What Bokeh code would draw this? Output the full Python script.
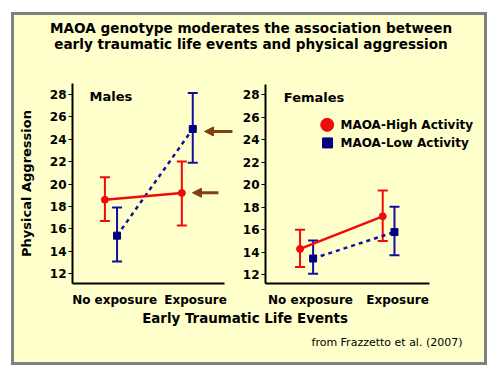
from bokeh.plotting import figure
from bokeh.layouts import column, row
from bokeh.models import (Range1d, FixedTicker, Whisker, TeeHead, ColumnDataSource,
                          Arrow, NormalHead)
from bokeh.core.properties import value
from bokeh.embed import file_html
from bokeh.resources import INLINE

# ---------------- data ----------------
categories = ["No exposure", "Exposure"]
cat_pos = [1, 2]

male_high_mean = [18.6, 19.2]
male_high_upper = [20.6, 22.0]
male_high_lower = [16.7, 16.3]

male_low_mean = [15.4, 24.9]
male_low_upper = [17.9, 28.1]
male_low_lower = [13.1, 21.9]

female_high_mean = [14.3, 17.2]
female_high_upper = [16.0, 19.5]
female_high_lower = [12.7, 15.0]

female_low_mean = [13.45, 15.8]
female_low_upper = [15.05, 18.05]
female_low_lower = [12.1, 13.75]

y_ticks = [12, 14, 16, 18, 20, 22, 24, 26, 28]

series_names = ["MAOA-High Activity", "MAOA-Low Activity"]

title_lines = ["MAOA genotype moderates the association between",
               "early traumatic life events and physical aggression"]
x_title = "Early Traumatic Life Events"
y_title = "Physical Aggression"
source_note = "from Frazzetto et al. (2007)"

# arrows (males panel) : y level, tail x, head x
arrow_y = [24.68, 19.22]
arrow_x_tail = [2.455, 2.282]
arrow_x_head = [2.11, 1.961]

# ---------------- style ----------------
BG = "#FFFFCC"
RED = "#F00A0A"
NAVY = "#000080"
NAVY_BAR = "#1010A0"
BROWN = "#7F4012"
FONT = "DejaVu Sans"
high_offset = [-0.12, -0.17]
low_offset = [0.03, -0.035]


def make_panel(width, left, top, xr, yr, xb, yb, label, label_y, hm, hu, hl, lm, lu, ll):
    p = figure(width=width, height=238, x_range=Range1d(*xr), y_range=Range1d(*yr),
               output_backend="svg", toolbar_location=None,
               min_border_left=left, min_border_right=0, min_border_top=top,
               min_border_bottom=26, background_fill_color=BG, border_fill_color=BG,
               outline_line_color=None)
    p.grid.visible = False
    xa = p.xaxis[0]
    xa.ticker = FixedTicker(ticks=cat_pos)
    xa.major_label_overrides = {c: n for c, n in zip(cat_pos, categories)}
    xa.bounds = xb
    xa.major_tick_out = 0
    xa.major_tick_in = 0
    xa.minor_tick_out = 0
    xa.minor_tick_in = 0
    xa.major_label_standoff = 9
    xa.axis_line_width = 2
    xa.axis_line_color = "black"
    xa.major_label_text_font = FONT
    xa.major_label_text_font_style = "bold"
    xa.major_label_text_font_size = "12px"
    xa.major_label_text_color = "black"

    ya = p.yaxis[0]
    ya.ticker = FixedTicker(ticks=y_ticks)
    ya.bounds = yb
    ya.major_tick_out = 4
    ya.major_tick_in = 0
    ya.minor_tick_out = 0
    ya.minor_tick_in = 0
    ya.major_label_standoff = 2
    ya.axis_line_width = 2
    ya.major_tick_line_width = 1
    ya.major_label_text_font = FONT
    ya.major_label_text_font_style = "bold"
    ya.major_label_text_font_size = "12px"
    ya.major_label_text_color = "black"

    hx = [c + o for c, o in zip(cat_pos, high_offset)]
    lx = [c + o for c, o in zip(cat_pos, low_offset)]
    hs = ColumnDataSource(dict(x=hx, y=hm, u=hu, l=hl))
    ls = ColumnDataSource(dict(x=lx, y=lm, u=lu, l=ll))

    p.line("x", "y", source=ls, line_color=NAVY_BAR, line_width=2.5, line_dash="4 4")
    p.line("x", "y", source=hs, line_color=RED, line_width=2.5)
    for src, col in ((hs, RED), (ls, NAVY_BAR)):
        w = Whisker(base="x", upper="u", lower="l", source=src, dimension="height",
                    line_color=col, line_width=2,
                    upper_head=TeeHead(size=10, line_color=col, line_width=2),
                    lower_head=TeeHead(size=10, line_color=col, line_width=2))
        p.add_layout(w)
    p.scatter("x", "y", source=hs, marker="circle", size=7, fill_color=RED, line_color=RED)
    p.scatter("x", "y", source=ls, marker="square", size=7, fill_color=NAVY, line_color=NAVY)

    p.text(x=[xr[0] + 0.21], y=[label_y], text=[label], text_font=value(FONT),
           text_font_style="bold", text_font_size="13px", text_baseline="middle",
           text_align="left", text_color="black")
    return p


males = make_panel(225, 58, 12, (0.48, 2.542), (11.14, 28.95), (0.48, 2.36), (11.14, 28.95),
                   "Males", 27.8, male_high_mean, male_high_upper, male_high_lower,
                   male_low_mean, male_low_upper, male_low_lower)
males.yaxis[0].axis_label = y_title
males.yaxis[0].axis_label_standoff = 13
males.yaxis[0].axis_label_text_font = FONT
males.yaxis[0].axis_label_text_font_style = "bold"
males.yaxis[0].axis_label_text_font_size = "13px"
males.yaxis[0].axis_label_text_color = "black"

for ay, xt, xh in zip(arrow_y, arrow_x_tail, arrow_x_head):
    males.add_layout(Arrow(end=NormalHead(size=9, fill_color=BROWN, line_color=BROWN),
                           x_start=xt, y_start=ay, x_end=xh, y_end=ay,
                           line_color=BROWN, line_width=3))

females = make_panel(245, 26, 12, (0.483, 2.9995), (11.23, 29.0), (0.483, 2.368), (11.23, 28.92),
                     "Females", 27.8, female_high_mean, female_high_upper, female_high_lower,
                     female_low_mean, female_low_upper, female_low_lower)

# legend
females.scatter(x=[1.192], y=[25.33], marker="circle", size=13, fill_color=RED, line_color=RED)
females.scatter(x=[1.196], y=[23.72], marker="square", size=10, fill_color=NAVY, line_color=NAVY)
females.text(x=[1.345, 1.345], y=[25.33, 23.72], text=series_names, text_font=value(FONT),
             text_font_style="bold", text_font_size="12px", text_baseline="middle",
             text_align="left", text_color="black")

# header
header = figure(width=470, height=56, x_range=Range1d(0, 470), y_range=Range1d(56, 0),
                output_backend="svg", toolbar_location=None, min_border=0,
                x_axis_type=None, y_axis_type=None, background_fill_color=BG,
                border_fill_color=BG, outline_line_color=None)
header.grid.visible = False
header.text(x=[236.5, 236.5], y=[12.5, 28], text=title_lines, text_font=value(FONT),
            text_font_style="bold", text_font_size="13.6px", text_baseline="middle",
            text_align="center", text_color="black")

# footer
footer = figure(width=470, height=53, x_range=Range1d(0, 470), y_range=Range1d(53, 0),
                output_backend="svg", toolbar_location=None, min_border=0,
                x_axis_type=None, y_axis_type=None, background_fill_color=BG,
                border_fill_color=BG, outline_line_color=None)
footer.grid.visible = False
footer.text(x=[230.5], y=[9], text=[x_title], text_font=value(FONT),
            text_font_style="bold", text_font_size="13.4px", text_baseline="middle",
            text_align="center", text_color="black")
footer.text(x=[448], y=[32.5], text=[source_note], text_font=value(FONT),
            text_font_size="11px", text_baseline="middle",
            text_align="right", text_color="black")

layout = column(header, row(males, females), footer,
                styles={"background-color": BG, "border": "3px solid #808080",
                        "transform": "translate(11px, 12px)"})

open("out.html", "w").write(file_html(layout, INLINE))
